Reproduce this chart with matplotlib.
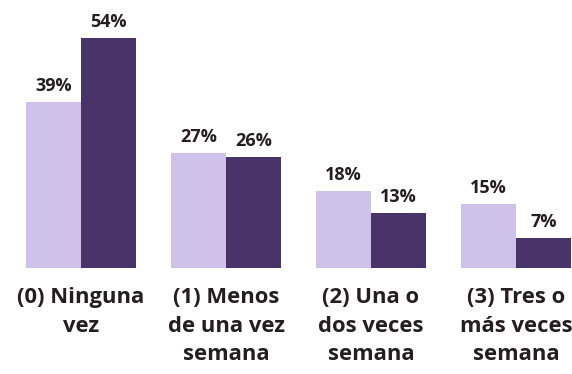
import numpy as np
import matplotlib
matplotlib.use("Agg")
from matplotlib import pyplot as plt

categories = ["(0) Ninguna\nvez", "(1) Menos\nde una vez\nsemana",
              "(2) Una o\ndos veces\nsemana", "(3) Tres o\nmás veces\nsemana"]
serie_a = [39, 27, 18, 15]
serie_b = [54, 26, 13, 7]

light = "#cfc1e9"
dark = "#49346a"
txt = "#231f20"

fig = plt.figure(figsize=(5.72, 3.74), dpi=100)
ax = fig.add_axes([0, 106 / 374, 1, 268 / 374])

x = np.arange(len(categories))
w = 0.38
b1 = ax.bar(x - w / 2, serie_a, w, color=light)
b2 = ax.bar(x + w / 2, serie_b, w, color=dark)

for bars, vals in ((b1, serie_a), (b2, serie_b)):
    for r, v in zip(bars, vals):
        ax.text(r.get_x() + r.get_width() / 2, v + 2.6, f"{v}%",
                ha="center", va="baseline", fontsize=13, fontweight="bold",
                family="Open Sans", color=txt)

ax.set_xlim(-81 / 145, 491 / 145)
ax.set_ylim(0, 62.9)
ax.set_xticks(x)
ax.set_xticklabels(categories, fontsize=15.8, fontweight="bold", family="Open Sans",
                   color=txt, linespacing=1.45)
ax.tick_params(axis="x", length=0, pad=14)
ax.set_yticks([])
for s in ax.spines.values():
    s.set_visible(False)

fig.savefig("out.png", dpi=100)
